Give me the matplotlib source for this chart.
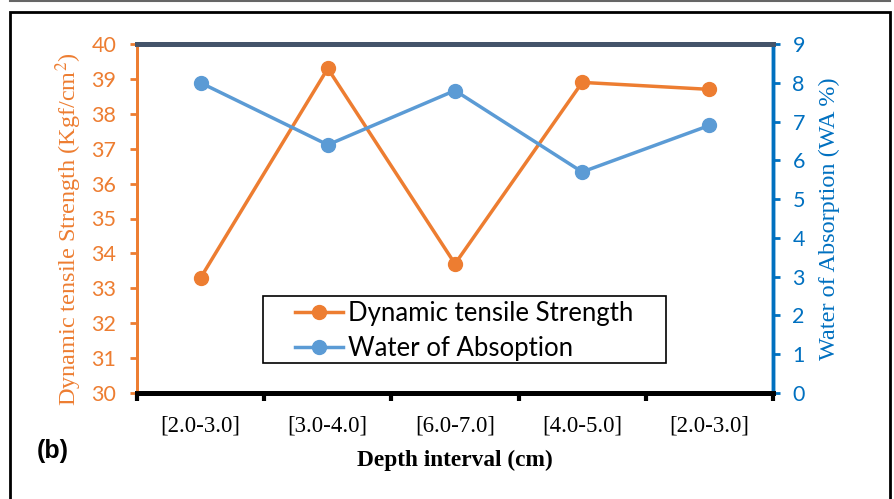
import numpy as np
import matplotlib
matplotlib.use('Agg')
import matplotlib.pyplot as plt
from matplotlib.lines import Line2D
from matplotlib.patches import Rectangle

plt.rcParams['mathtext.fontset'] = 'stix'

categories = ['[2.0-3.0]', '[3.0-4.0]', '[6.0-7.0]', '[4.0-5.0]', '[2.0-3.0]']
strength = [33.3, 39.3, 33.7, 38.9, 38.7]
absorption = [8.0, 6.4, 7.8, 5.7, 6.9]

orange = '#ED7D31'
blue = '#5B9BD5'
axblue = '#0070C0'
serif = 'Liberation Serif'
sans = 'Lato'

W, H = 895, 499
L, R, T, B = 137, 773, 44, 393

fig = plt.figure(figsize=(W / 100, H / 100), dpi=100)
ax = fig.add_axes([L / W, 1 - B / H, (R - L) / W, (B - T) / H])
ax2 = ax.twinx()

x = np.arange(len(categories))
ax.plot(x, strength, color=orange, lw=2.5, marker='o', ms=10, label='Dynamic tensile Strength')
ax2.plot(x, absorption, color=blue, lw=2.5, marker='o', ms=10, label='Water of Absoption')

ax.set_xlim(-0.5, 4.5)
ax.set_ylim(30, 40)
ax2.set_ylim(0, 9)
ax.set_yticks(range(30, 41))
ax2.set_yticks(range(0, 10))

# category labels centred, ticks on boundaries
ax.set_xticks(np.arange(-0.5, 5, 1))
ax.set_xticklabels([])
ax.set_xticks(x, minor=True)
ax.set_xticklabels(categories, minor=True, fontfamily=serif, fontsize=16.5)
ax.tick_params(axis='x', which='minor', length=0, pad=16)
ax.tick_params(axis='x', which='major', direction='out', length=6, width=3, color='black')

ax.tick_params(axis='y', colors=orange, direction='out', length=5, width=2, labelsize=15.5, pad=10)
ax2.tick_params(axis='y', colors=axblue, direction='out', length=5, width=2, labelsize=15.5, pad=9)
for t in ax.get_yticklabels() + ax2.get_yticklabels():
    t.set_fontfamily(sans)

for a in (ax, ax2):
    a.spines['top'].set_color('#44546A')
    a.spines['top'].set_linewidth(3.5)
    a.spines['bottom'].set_color('black')
    a.spines['bottom'].set_linewidth(3.5)
    a.spines['left'].set_color(orange)
    a.spines['left'].set_linewidth(2)
    a.spines['right'].set_color(axblue)
    a.spines['right'].set_linewidth(2.5)

ax.set_ylabel('Dynamic tensile Strength (Kgf/cm$^2$)', color=orange, fontfamily=serif, fontsize=17.5)
ax.yaxis.set_label_coords((84 - L) / (R - L), 1 - (229 - T) / (B - T))
ax2.set_ylabel('Water of Absorption (WA %)', color=axblue, fontfamily=serif, fontsize=17.5)
ax2.yaxis.set_label_coords((819 - L) / (R - L), 1 - (219 - T) / (B - T))
ax.set_xlabel('Depth interval (cm)', fontfamily=serif, fontweight='bold', fontsize=16.8, labelpad=10)

# legend: entries without frame, box drawn separately for the wide side padding
handles = [Line2D([], [], color=orange, lw=2.5, marker='o', ms=10),
           Line2D([], [], color=blue, lw=2.5, marker='o', ms=10)]
leg = ax.legend(handles, ['Dynamic tensile Strength', 'Water of Absoption'],
                loc='upper left', bbox_to_anchor=((295 - L) / (R - L), 1 - (301 - T) / (B - T)),
                prop={'family': sans, 'size': 18.5}, frameon=False,
                borderpad=0, handlelength=1.85, handletextpad=0.2,
                labelspacing=0.38, borderaxespad=0)
ax.add_patch(Rectangle(((263 - L) / (R - L), 1 - (363 - T) / (B - T)),
                       (666 - 263) / (R - L), (363 - 296) / (B - T),
                       transform=ax.transAxes, fill=False, edgecolor='black', lw=1.2, zorder=5))

fig.text(37 / W, 1 - 451 / H, '(b)', fontfamily='Liberation Sans', fontweight='bold',
         fontsize=18, va='center')

# outer frame and top rule
fig.patches.append(Rectangle((10 / W, -0.05), 880 / W, 1 - 12 / H + 0.05,
                             transform=fig.transFigure, fill=False, edgecolor='black', lw=2))
fig.lines.append(Line2D([10 / W, 890 / W], [1 - 1 / H, 1 - 1 / H],
                        transform=fig.transFigure, color='#666666', lw=1.5))

fig.savefig('out.png', dpi=100)
